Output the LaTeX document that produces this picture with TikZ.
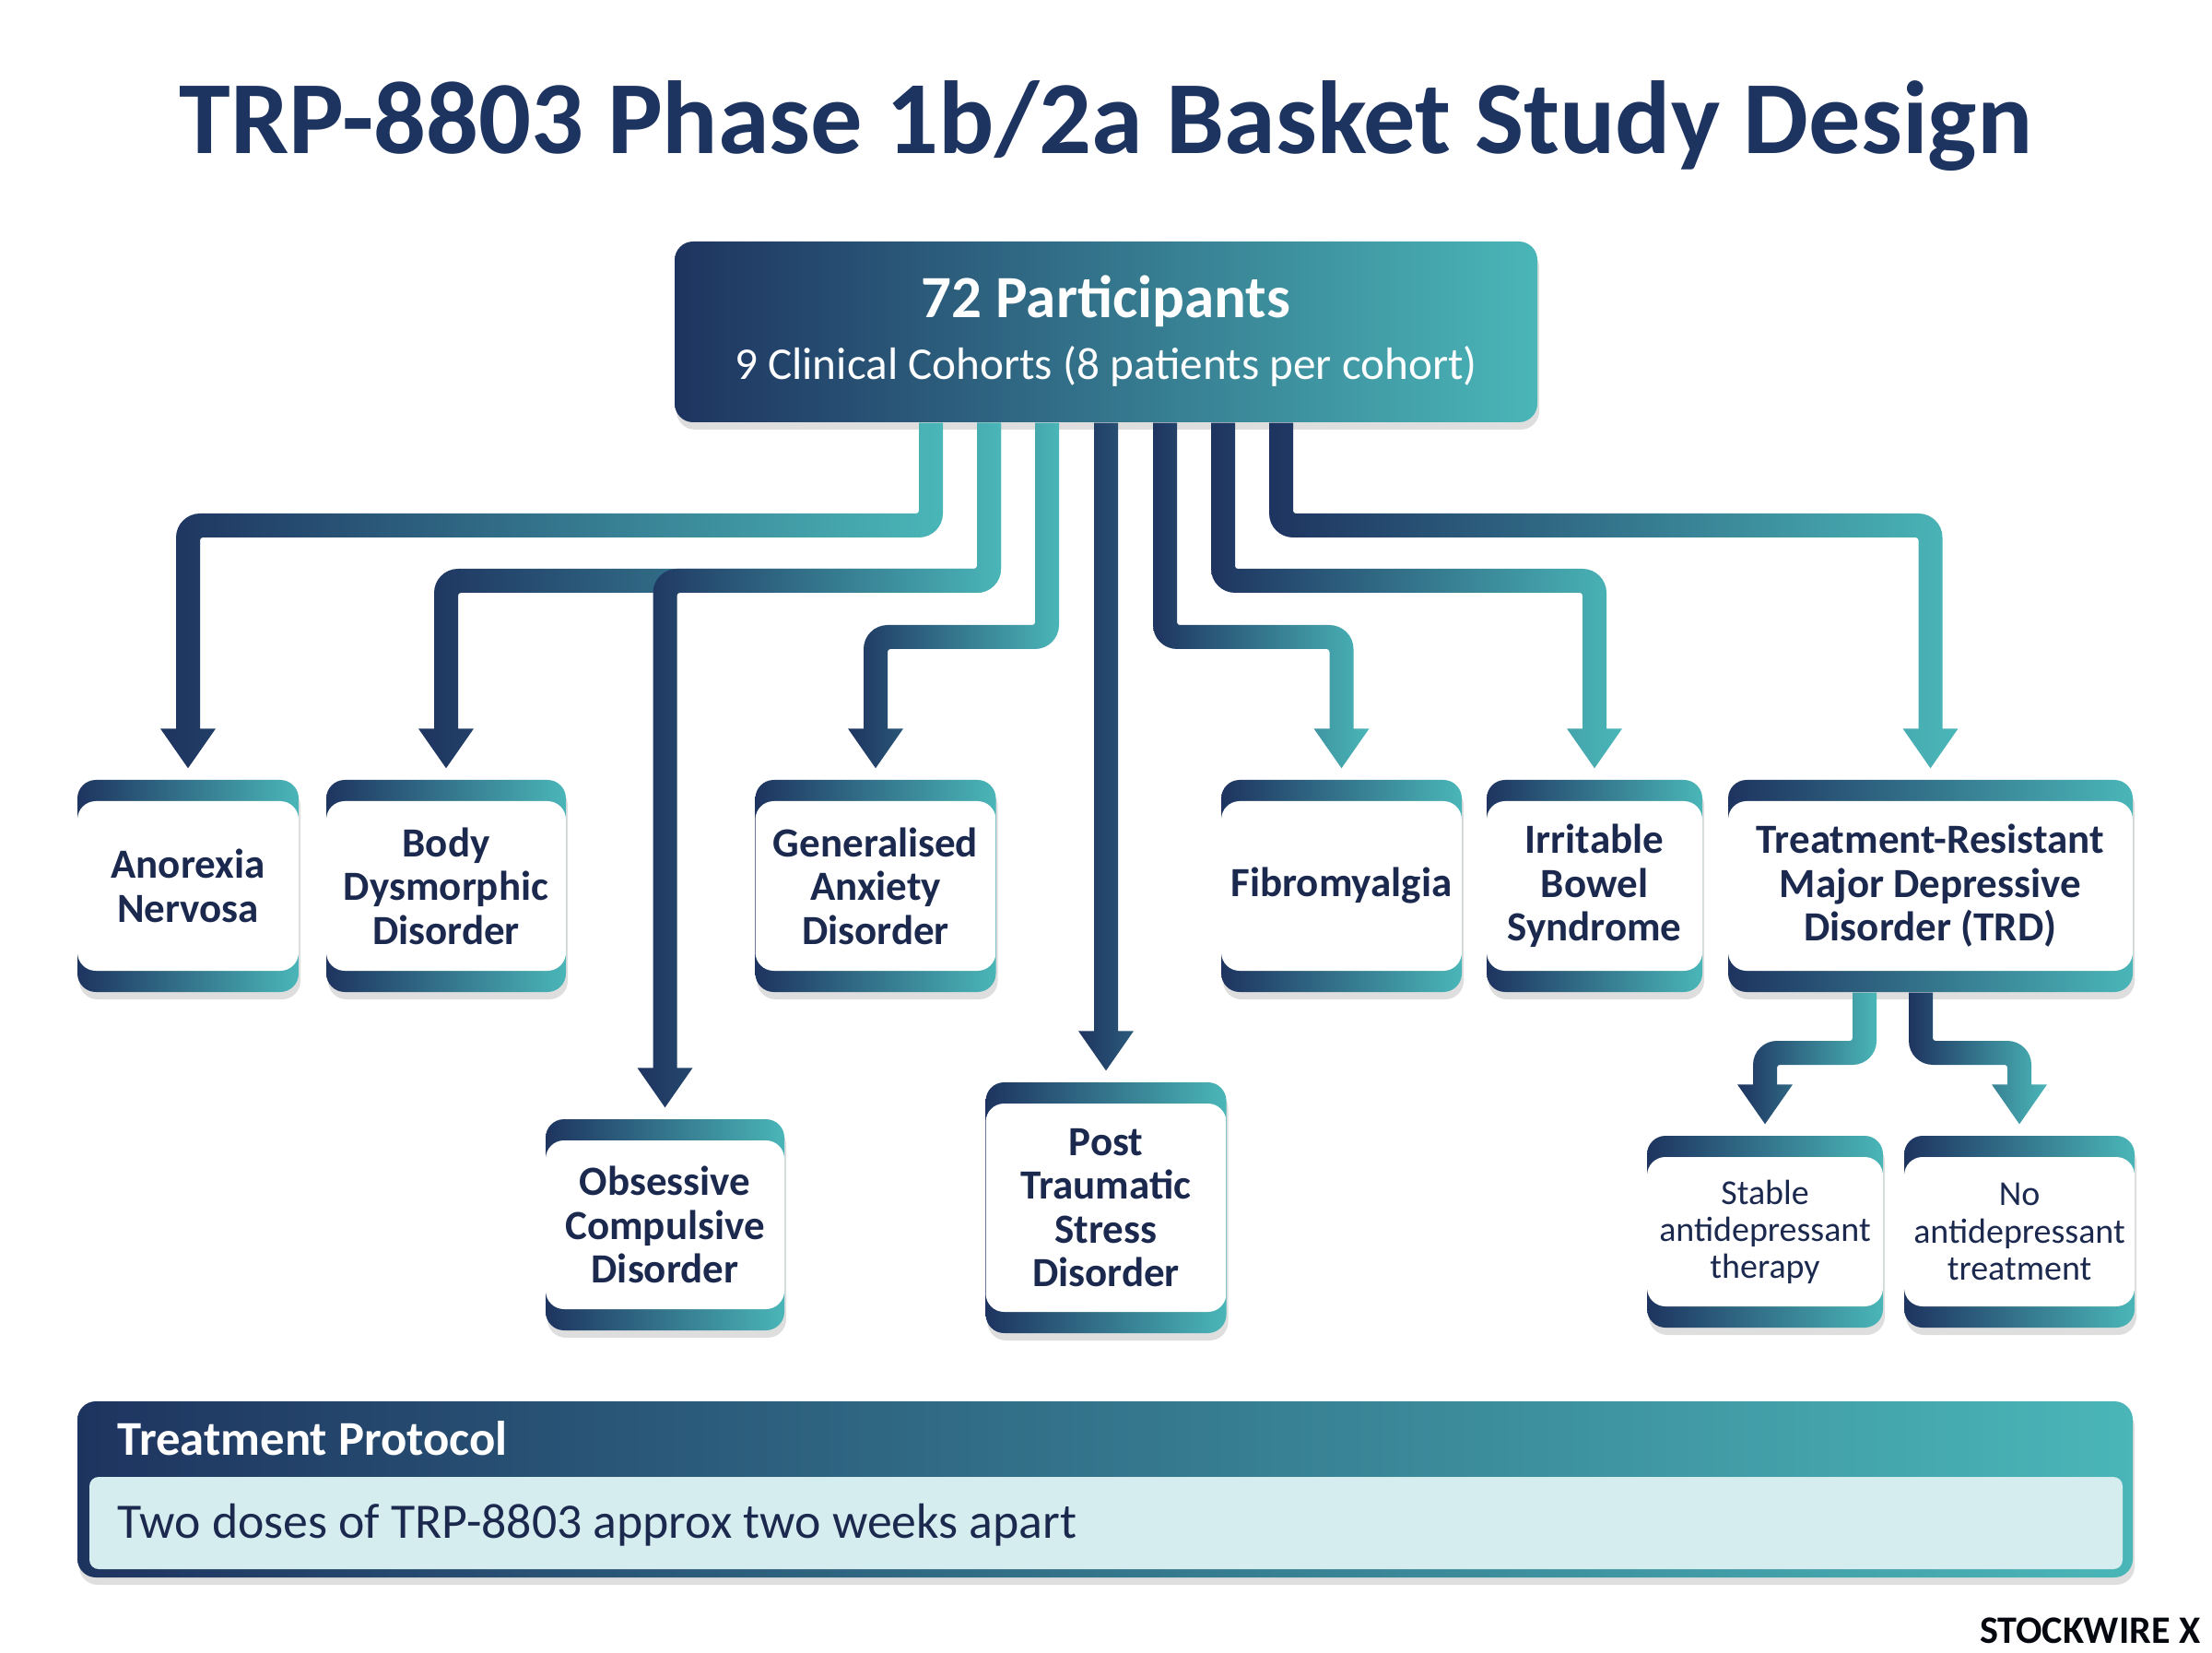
\documentclass[tikz,border=0pt]{standalone}
\usepackage{fontspec}
\setmainfont{Carlito}
\usepackage{tikz}
\usetikzlibrary{calc,shadows}

\definecolor{navyc}{RGB}{30,52,96}
\definecolor{tealc}{RGB}{74,182,184}
\definecolor{textc}{RGB}{27,41,79}
\definecolor{lightc}{RGB}{214,237,239}

% link sizes
\newcommand{\lnkhw}{0.13cm}
\newcommand{\lnkgap}{0.12cm}
\newcommand{\lnktip}{0.43cm}
\newcommand{\lnkhead}{0.30cm}
\newcommand{\lnkrin}{0.03cm}
\newcommand{\lnkrout}{0.26cm}

\tikzset{
  boxshadow/.style={drop shadow={shadow xshift=0.02cm, shadow yshift=-0.08cm, opacity=0.13, fill=black}},
  cohort/.style={rounded corners=0.2cm, left color=navyc, right color=tealc, text=textc, align=center, inner sep=0pt,
    font=\fontsize{12.8}{13.5}\selectfont\bfseries, boxshadow,
    path picture={\fill[white, rounded corners=0.2cm] ([yshift=-0.23cm]path picture bounding box.north west) rectangle ([yshift=0.23cm]path picture bounding box.south east);}},
  subarm/.style={cohort, font=\fontsize{10.8}{11.4}\selectfont},
  linkshade/.style={left color=navyc, right color=tealc},
}

% #1 source, #2 side (1 = left, -1 = right), #3 stem x, #4 bar y, #5 target
\newcommand{\cohortlink}[5]{%
  \shade[linkshade] let \p1 = (#1.south), \p2 = (#5.north) in
    ({#3cm-(#2)*\lnkhw}, \y1) [rounded corners=\lnkrin]
    -- ({#3cm-(#2)*\lnkhw}, {#4cm+\lnkhw}) [rounded corners=\lnkrout]
    -- ({\x2-(#2)*\lnkhw}, {#4cm+\lnkhw}) [sharp corners]
    -- ({\x2-(#2)*\lnkhw}, {\y2+\lnkgap+\lnktip})
    -- ({\x2-(#2)*\lnkhead}, {\y2+\lnkgap+\lnktip})
    -- (\x2, {\y2+\lnkgap})
    -- ({\x2+(#2)*\lnkhead}, {\y2+\lnkgap+\lnktip})
    -- ({\x2+(#2)*\lnkhw}, {\y2+\lnkgap+\lnktip}) [rounded corners=\lnkrin]
    -- ({\x2+(#2)*\lnkhw}, {#4cm-\lnkhw}) [rounded corners=\lnkrout]
    -- ({#3cm+(#2)*\lnkhw}, {#4cm-\lnkhw}) [sharp corners]
    -- ({#3cm+(#2)*\lnkhw}, \y1) -- cycle;
}

\begin{document}
\begin{tikzpicture}
  \fill[white] (0,0) rectangle (24,17.92);

  % title
  \node[anchor=base, text=navyc, font=\fontsize{32}{36}\selectfont\bfseries] (title) at (12,16.25)
    {TRP-8803 Phase 1b/2a Basket Study Design};

  % participants
  \node[rounded corners=0.2cm, left color=navyc, right color=tealc, minimum width=9.36cm, minimum height=1.96cm, boxshadow] (hub) at (12,14.32) {};
  \node[anchor=base, text=white, font=\fontsize{18.5}{22}\selectfont\bfseries] (hubhead) at (12,14.47) {72 Participants};
  \node[anchor=base, text=white, font=\fontsize{14}{17}\selectfont] (hubsub) at (12,13.80) {9 Clinical Cohorts (8 patients per cohort)};

  % cohorts
  \node[cohort, minimum width=2.40cm, minimum height=2.30cm] (an) at (2.04,8.31) {Anorexia\\Nervosa};
  \node[cohort, minimum width=2.60cm, minimum height=2.30cm] (bdd) at (4.84,8.31) {Body\\Dysmorphic\\Disorder};
  \node[cohort, minimum width=2.61cm, minimum height=2.30cm] (gad) at (9.50,8.31) {Generalised\\Anxiety\\Disorder};
  \node[cohort, minimum width=2.61cm, minimum height=2.30cm] (fib) at (14.555,8.31) {Fibromyalgia};
  \node[cohort, minimum width=2.34cm, minimum height=2.30cm] (ibs) at (17.30,8.31) {Irritable\\Bowel\\Syndrome};
  \node[cohort, minimum width=4.39cm, minimum height=2.30cm] (trd) at (20.945,8.31) {Treatment-Resistant\\Major Depressive\\Disorder (TRD)};
  \node[cohort, minimum width=2.59cm, minimum height=2.29cm] (ocd) at (7.215,4.635) {Obsessive\\Compulsive\\Disorder};
  \node[cohort, minimum width=2.61cm, minimum height=2.72cm] (ptsd) at (12,4.82) {Post\\Traumatic\\Stress\\Disorder};
  \node[subarm, minimum width=2.56cm, minimum height=2.08cm] (stab) at (19.15,4.56) {Stable\\antidepressant\\therapy};
  \node[subarm, minimum width=2.50cm, minimum height=2.08cm] (noad) at (21.91,4.56) {No\\antidepressant\\treatment};

  % links
  \cohortlink{hub}{1}{10.10}{12.22}{an}
  \cohortlink{hub}{1}{10.73}{11.62}{bdd}
  \cohortlink{hub}{1}{10.73}{11.62}{ocd}
  \cohortlink{hub}{1}{11.36}{11.01}{gad}
  \shade[left color=navyc, right color=navyc!70!tealc] let \p1 = (hub.south), \p2 = (ptsd.north) in
    ({\x2-\lnkhw}, \y1) -- ({\x2-\lnkhw}, {\y2+\lnkgap+\lnktip})
    -- ({\x2-\lnkhead}, {\y2+\lnkgap+\lnktip}) -- (\x2, {\y2+\lnkgap})
    -- ({\x2+\lnkhead}, {\y2+\lnkgap+\lnktip}) -- ({\x2+\lnkhw}, {\y2+\lnkgap+\lnktip})
    -- ({\x2+\lnkhw}, \y1) -- cycle;
  \cohortlink{hub}{-1}{12.64}{11.01}{fib}
  \cohortlink{hub}{-1}{13.27}{11.62}{ibs}
  \cohortlink{hub}{-1}{13.90}{12.22}{trd}
  \cohortlink{trd}{1}{20.23}{6.50}{stab}
  \cohortlink{trd}{-1}{20.84}{6.50}{noad}

  % protocol
  \node[rounded corners=0.2cm, left color=navyc, right color=tealc, minimum width=22.30cm, minimum height=1.91cm, boxshadow] (proto) at (11.99,1.765) {};
  \node[rounded corners=0.1cm, fill=lightc, minimum width=22.06cm, minimum height=1.00cm] (protobody) at (12,1.40) {};
  \node[anchor=base west, inner sep=0pt, text=white, font=\fontsize{15}{18}\selectfont\bfseries] (protohead) at (1.27,2.14) {Treatment Protocol};
  \node[anchor=base west, inner sep=0pt, text=textc, font=\fontsize{15.3}{18}\selectfont] (prototext) at (1.27,1.24) {Two doses of TRP-8803 approx two weeks apart};

  \node[anchor=base east, inner sep=0pt, text=black!85!navyc, font=\fontsize{12}{14}\selectfont\bfseries] (brand) at (23.88,0.10) {STOCKWIRE X};
  \useasboundingbox (0,0) rectangle (24,17.92);
\end{tikzpicture}
\end{document}
